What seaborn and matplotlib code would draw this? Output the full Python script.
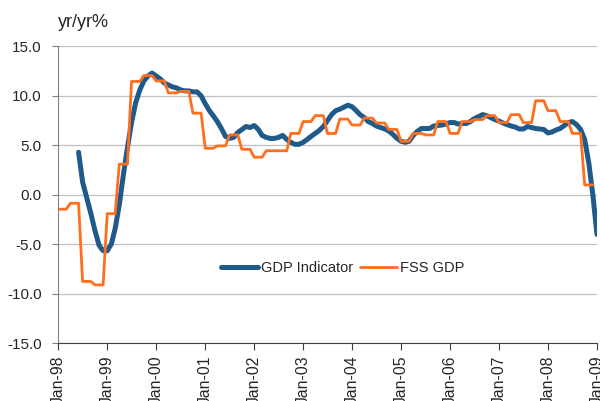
import numpy as np
import pandas as pd
import seaborn as sns
import matplotlib.pyplot as plt
import matplotlib.dates as mdates

# monthly dates Jan-98 .. Jan-09
months = pd.date_range('1998-01-01', '2009-01-01', freq='MS')

# GDP Indicator, monthly, Jun-98 .. Jan-09
gdp_indicator = [
    4.3, 1.3, -0.3, -1.9, -3.6, -5.1, -5.65,                     # Jun-Dec 98
    -5.65, -4.95, -3.4, -1.0, 2.0, 4.8, 7.3, 9.3, 10.6, 11.5, 12.0, 12.3,  # 99
    12.0, 11.7, 11.3, 11.1, 10.9, 10.8, 10.6, 10.5, 10.5, 10.4, 10.4, 10.0,  # 00
    9.2, 8.5, 8.0, 7.4, 6.7, 5.9, 5.7, 5.8, 6.3, 6.6, 6.9, 6.8,   # 01
    7.0, 6.6, 6.0, 5.8, 5.7, 5.7, 5.8, 6.0, 5.6, 5.3, 5.1, 5.1,   # 02
    5.3, 5.6, 5.9, 6.2, 6.5, 6.9, 7.5, 8.1, 8.5, 8.65, 8.85, 9.05,  # 03
    8.9, 8.5, 8.1, 7.8, 7.4, 7.2, 6.95, 6.8, 6.65, 6.45, 6.1, 5.7,  # 04
    5.4, 5.3, 5.4, 6.0, 6.4, 6.7, 6.7, 6.7, 6.95, 7.0, 7.05, 7.15,  # 05
    7.3, 7.3, 7.15, 7.2, 7.2, 7.4, 7.7, 7.9, 8.1, 8.0, 7.8, 7.6,    # 06
    7.45, 7.25, 7.1, 6.95, 6.85, 6.65, 6.65, 6.9, 6.8, 6.7, 6.65, 6.6,  # 07
    6.25, 6.35, 6.55, 6.7, 7.0, 7.3, 7.4, 7.1, 6.6, 5.6, 3.2, 0.0,  # 08
    -4.0,                                                         # Jan-09
]

# FSS GDP, quarterly, Q1-98 .. Q4-08
fss_gdp_q = [
    -1.45, -0.85, -8.75, -9.1,
    -1.9, 3.1, 11.45, 12.05,
    11.5, 10.3, 10.45, 8.25,
    4.7, 4.95, 6.05, 4.6,
    3.8, 4.45, 4.45, 6.2,
    7.4, 8.0, 6.2, 7.65,
    7.05, 7.75, 7.25, 6.6,
    5.4, 6.2, 6.05, 7.4,
    6.2, 7.4, 7.6, 8.0,
    7.3, 8.1, 7.3, 9.5,
    8.5, 7.4, 6.2, 1.0,
]

gdp = pd.DataFrame({'date': months[5:], 'value': gdp_indicator})
fss = pd.DataFrame({'date': months[:132], 'value': np.repeat(fss_gdp_q, 3)})

sns.set_style('white')
plt.rcParams['font.family'] = ['Liberation Sans', 'DejaVu Sans']

fig = plt.figure(figsize=(6, 4.01), dpi=100)
ax = fig.add_axes([0.0972, 0.1438, 0.8978, 0.7407])

sns.lineplot(data=gdp, x='date', y='value', color='#1f5a8b', linewidth=3.6,
             label='GDP Indicator', ax=ax, solid_capstyle='round')
sns.lineplot(data=fss, x='date', y='value', color='#ff6e1c', linewidth=2.0,
             label='FSS GDP', ax=ax)

ax.set_xlim(months[0], months[-1])
ax.set_ylim(-15, 15)
ax.set_yticks(np.arange(-15, 15.1, 5))
ax.yaxis.set_major_formatter(plt.FuncFormatter(lambda v, p: f'{v:.1f}'))
ax.xaxis.set_major_locator(mdates.YearLocator())
ax.xaxis.set_major_formatter(mdates.DateFormatter('%b-%y'))
ax.set_xlabel('')
ax.set_ylabel('')

ax.grid(axis='y', color='#c0c0c0', linewidth=0.9)
ax.set_axisbelow(True)
for s in ['top', 'right']:
    ax.spines[s].set_visible(False)
ax.spines['left'].set_color('#808080')
ax.spines['bottom'].set_color('#404040')
ax.tick_params(axis='y', length=4, color='#808080', labelsize=11, pad=8, direction='out', left=True)
ax.tick_params(axis='x', length=5, color='#404040', labelsize=11.3, rotation=90, pad=4,
               direction='out', bottom=True)

fig.text(0.097, 0.945, 'yr/yr%', fontsize=13, va='center', ha='left')

ax.legend(loc='center', bbox_to_anchor=(0.528, 0.2525), frameon=False, ncol=2,
          fontsize=10.5, handlelength=2.5, handletextpad=0.2, columnspacing=0.5)

fig.savefig('out.png', dpi=100)
